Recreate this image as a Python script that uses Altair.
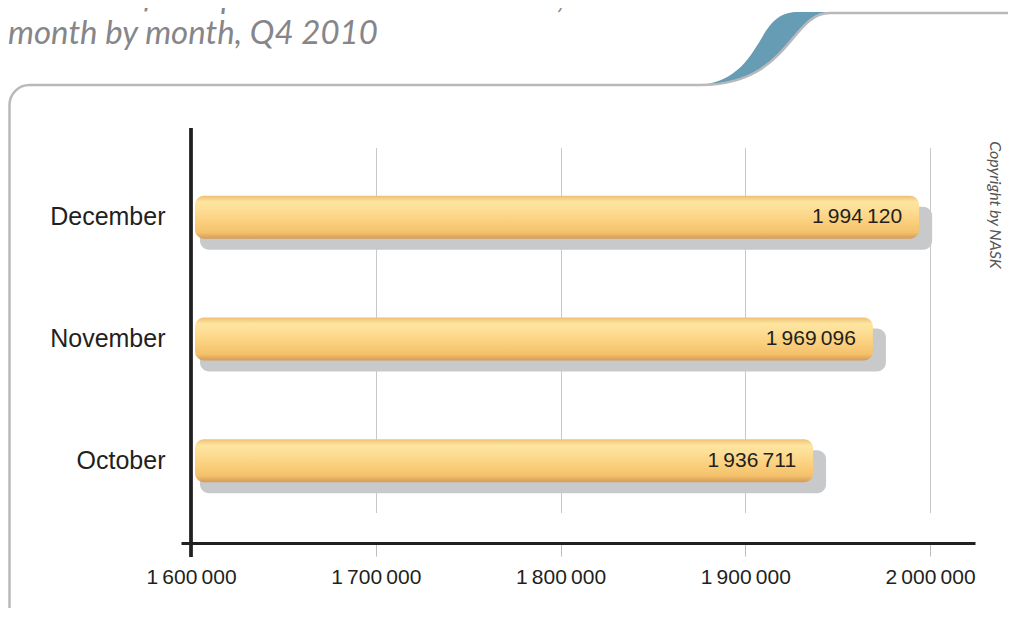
import altair as alt
import pandas as pd

# ---- data ----
months = ["October", "November", "December"]
domains = [1936711, 1969096, 1994120]
month_order = ["December", "November", "October"]
tick_values = [1600000, 1700000, 1800000, 1900000, 2000000]
axis_start = 1600000
title_lines = ["Number of the .pl domain names in DNS,", "month by month, Q4 2010"]
copyright_text = "Copyright by NASK"

THIN = "\u2009"
df = pd.DataFrame({"month": months, "count": domains})
df["start"] = axis_start
df["label"] = [f"{v:,}".replace(",", THIN) for v in domains]

NUMF = "Liberation Sans, Arial"
SANS = "Liberation Sans, Arial"
HUMAN = "Lato, Open Sans"

xscale = alt.Scale(domain=[1594587, 2024357], nice=False, zero=False)
yscale = alt.Scale(domain=month_order, range=[30.5, 395.5], paddingInner=0, paddingOuter=0)

xaxis = alt.Axis(
    values=tick_values,
    labelExpr=f"replace(replace(format(datum.value, ','), ',', '{THIN}'), ',', '{THIN}')",
    grid=True, gridColor="#c8c8c8", gridWidth=1,
    tickColor="#bdbdbd", tickSize=13, tickWidth=1,
    domainColor="#231f20", domainWidth=3,
    labelFont=NUMF, labelFontSize=21, labelColor="#231f20",
    labelPadding=10, labelOverlap=False, labelFlush=False, title=None,
)
yaxis = alt.Axis(
    domain=False, ticks=False, grid=False,
    labelFont=SANS, labelFontSize=25, labelColor="#231f20",
    labelPadding=16, title=None,
)

one = alt.Data(values=[{"k": 1}])

# ---- decorative frame ----
frame_path = ("M-171.5,514 L-171.5,-21 A20,20 0 0 1 -151.5,-41 L519,-41 "
              "C609,-41 609,-113 649,-113 L830,-113")
wave_path = ("M519,-41 C556,-44 570,-70 583,-92 C593,-108 602,-114 617,-114 "
             "L649,-114 C609,-114 609,-41 519,-41 Z")

wave = alt.Chart(one).mark_point(
    shape=wave_path, size=4, filled=True, color="#669db5", opacity=1, strokeWidth=0
).encode(x=alt.value(0), y=alt.value(0))

frame = alt.Chart(one).mark_point(
    shape=frame_path, size=4, filled=False, color="#b9b9bd", opacity=1, strokeWidth=2.5
).encode(x=alt.value(0), y=alt.value(0))

title1 = alt.Chart(one).mark_text(
    text=title_lines[0], font=HUMAN, fontSize=33, fontStyle="italic",
    color="#86868a", align="left", baseline="alphabetic"
).encode(x=alt.value(-173), y=alt.value(-118))
title2 = alt.Chart(one).mark_text(
    text=title_lines[1], font=HUMAN, fontSize=33, fontStyle="italic",
    color="#86868a", align="left", baseline="alphabetic"
).encode(x=alt.value(-173), y=alt.value(-82))

copyright = alt.Chart(one).mark_text(
    text=copyright_text, font=HUMAN, fontSize=16, fontStyle="italic",
    color="#555555", align="center", baseline="middle", angle=90
).encode(x=alt.value(814), y=alt.value(79))

# ---- bars ----
base = alt.Chart(df)

grad = alt.LinearGradient(
    gradient="linear", x1=0, x2=0, y1=0, y2=1,
    stops=[
        alt.GradientStop(color="#eebf72", offset=0),
        alt.GradientStop(color="#fde5a0", offset=0.14),
        alt.GradientStop(color="#fddf98", offset=0.3),
        alt.GradientStop(color="#fbcf7c", offset=0.6),
        alt.GradientStop(color="#f4c16c", offset=0.85),
        alt.GradientStop(color="#d49b57", offset=1),
    ],
)

shadow = base.mark_bar(
    size=43, color="#c8c9cb", cornerRadius=9, xOffset=9, x2Offset=13, yOffset=11
).encode(
    x=alt.X("start:Q", scale=xscale, axis=xaxis),
    x2="count:Q",
    y=alt.Y("month:N", scale=yscale, axis=yaxis, sort=month_order),
)

bars = base.mark_bar(size=43, color=grad, cornerRadius=9, xOffset=4).encode(
    x=alt.X("start:Q", scale=xscale, axis=xaxis),
    x2="count:Q",
    y=alt.Y("month:N", scale=yscale, axis=yaxis, sort=month_order),
)

labels = base.mark_text(
    font=NUMF, fontSize=21, color="#231f20", align="right", baseline="middle", dx=-17
).encode(
    x=alt.X("count:Q", scale=xscale, axis=xaxis),
    y=alt.Y("month:N", scale=yscale, axis=yaxis, sort=month_order),
    text="label:N",
)

yrule = base.mark_rule(color="#231f20", strokeWidth=3).encode(
    x=alt.datum(axis_start, scale=xscale),
    y=alt.value(2),
    y2=alt.value(431),
)

chart = alt.layer(
    wave, frame, title1, title2, copyright, shadow, bars, labels, yrule
).properties(
    width=794, height=417,
    autosize=alt.AutoSizeParams(type="none"),
    padding={"left": 173, "top": 118, "right": 33, "bottom": 65},
    background="white",
).configure_view(stroke=None)

chart.save("out.html", embed_options={"renderer": "svg", "actions": False})
